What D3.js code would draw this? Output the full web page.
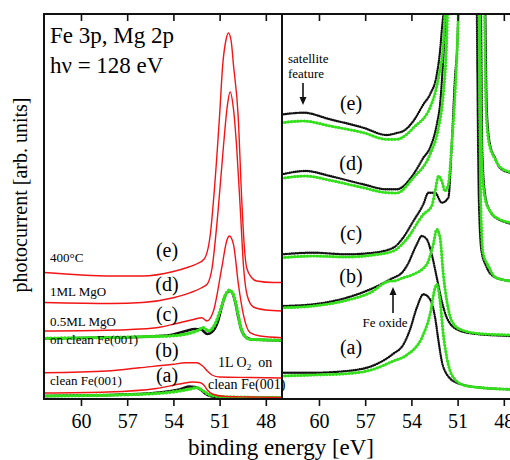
<!DOCTYPE html>
<html>
<head>
<meta charset="utf-8">
<script src="https://cdn.jsdelivr.net/npm/d3@7"></script>
<style>
  body { margin: 0; background: #fff; }
  svg { display: block; }
  svg text { font-family: "Liberation Serif", "Times New Roman", Times, serif; }
</style>
</head>
<body>
<script>
// binding energy [eV] -> photocurrent [arb. units]
// left panel: overview spectra
const leftRedE = [[62.4,126.5],[60,124],[58,123],[56,123],[54,127.5],[53,132],[52.5,135],[52,140],[51.6,165],[51.4,198],[51.0,284],[50.8,334],[50.6,358],[50.43,366],[50.25,358],[50.1,334],[49.8,284],[49.56,198],[49.4,153],[49.24,131],[48.9,121],[48.6,118],[47.5,116.5],[46.95,116.5]]
const leftRedD = [[62.4,96.5],[58,95.5],[56,96.5],[54,101.3],[52.9,106.3],[52.2,111],[51.8,115],[51.5,130],[51.1,188],[50.76,251],[50.5,293],[50.32,307],[50.1,290],[49.89,251],[49.65,188],[49.45,133],[49.2,103],[48.8,92],[48,89],[46.95,88]]
const leftRedC = [[62.4,68],[58.3,68.7],[55.1,71.3],[53.6,76.3],[52.7,79.5],[52.16,81.3],[51.83,78],[51.4,88],[50.86,131.3],[50.54,158],[50.37,163],[50.1,154.7],[49.78,114.7],[49.46,84.7],[49.02,66.3],[48.37,63],[46.95,61.3]]
const leftRedB = [[62.4,26.3],[58.3,28],[56.2,31.3],[54,34.7],[53.2,36.3],[52.5,36.3],[52.1,33],[51.8,28],[51.5,24],[51,22],[49,21.5],[46.95,21]]
const leftRedA = [[62.4,6],[58.3,7],[55.1,10.5],[53.6,15],[52.7,17],[52.3,16.5],[52,13.5],[51.8,9],[51.4,4.5],[50.6,2.5],[49,2],[46.95,1.5]]
const leftGreenC = [[62.4,60.7],[58,61.5],[55.5,62.5],[54.2,63],[52.48,68],[52.06,71.3],[51.73,68],[51.3,74.7],[50.97,88],[50.65,103],[50.37,108.7],[50.11,104.7],[49.89,91.3],[49.67,74.7],[49.46,64.7],[49.02,59.7],[46.95,58.7]]
const leftBlackC = [[62.4,60.5],[58,61.5],[55.5,62.5],[54.2,64],[53.2,68],[52.6,70],[52.2,69.5],[51.8,65],[51.5,67],[51.1,78],[50.8,96],[50.5,107],[50.3,108],[50,98],[49.8,83],[49.6,70],[49.3,62],[48.9,59.5],[46.95,58.5]]
const leftGreenA = [[62.4,3],[56.2,4.7],[53.6,8],[52.9,10],[52.48,11.3],[52.06,8],[51.62,4],[50.54,2],[46.95,1.3]]
const leftBlackA = [[62.4,3],[56.2,5],[53.6,9.5],[53,12.5],[52.6,12],[52.2,9],[51.9,5],[51.5,2.5],[50.5,1.5],[46.95,1]]

// right panel: magnified spectra (black and green data), peaks run off the top
const rightBlackE = [[62.4,284.5],[61.02,286.3],[59.28,279.7],[57.12,271.3],[55.6,264],[54.95,266],[54.52,268],[53.87,278],[53.22,294.7],[52.79,304.7],[52.35,324.7],[52.14,348],[52.03,368],[51.9,393],[51.5,700],[50.4,1290],[49.4,700],[49.2,388],[49.1,288],[48.9,255],[48.57,241],[48.25,231],[47.6,226.3],[46.95,225]]
const rightGreenE = [[62.4,276.3],[61.02,278],[59.28,273],[57.12,266.3],[55.6,259.7],[54.95,259.7],[54.3,264.7],[53.87,271.3],[52.79,291.3],[52.24,321.3],[51.93,354.7],[51.82,388],[51.5,700],[50.4,1290],[49.4,700],[49.25,388],[49.15,288],[48.95,255],[48.6,241],[48.25,232],[47.6,227],[46.95,225.5]]
const rightBlackD = [[62.4,224.7],[60.87,228],[59.28,223],[57.12,214.7],[55.6,209.7],[54.95,209.7],[53.87,224.7],[53.22,241.3],[52.79,251.3],[52.35,274.7],[52.14,294.7],[51.94,338],[51.77,388],[51.4,650],[50.4,1100],[49.7,650],[49.48,388],[49.4,248],[49.2,203],[48.9,188],[48.25,179],[46.95,174]]
const rightGreenD = [[62.4,220.7],[60.87,223],[59.28,218.7],[57.12,211.3],[55.6,206.3],[54.95,206],[53.87,221.3],[52.79,244.7],[52.24,271.3],[51.93,304.7],[51.72,354.7],[51.65,388],[51.3,650],[50.4,1100],[49.7,650],[49.55,388],[49.45,248],[49.25,203],[48.9,188],[48.25,179.5],[46.95,175]]
const rightBlackC = [[62.4,144.7],[60.37,146.3],[58.2,144.7],[56.47,146.3],[55.17,151.3],[54.6,160],[53.87,178],[53.22,195],[52.9,206.3],[52.46,206.3],[52.03,196.3],[51.6,201.3],[51.38,254.7],[51.17,321.3],[51.02,354.7],[50.95,388],[50.6,700],[50.3,900],[49.9,700],[49.75,388],[49.62,198],[49.45,148],[49.15,133],[48.6,122],[47.6,118],[46.95,117]]
const rightGreenC = [[62.4,141.3],[60.37,143],[58.2,142],[56.47,144],[55.17,148],[54.3,160],[53.22,184.7],[52.68,193],[52.46,208],[52.24,223],[52.03,218],[51.82,208],[51.6,214.7],[51.38,254.7],[51.17,304.7],[50.95,388],[50.6,700],[50.3,900],[49.9,700],[49.62,388],[49.5,198],[49.35,146],[49,133],[48.57,122],[47.6,118],[46.95,117]]
const rightBlackB = [[62.4,93],[60.37,94.7],[58.2,101.3],[56.67,109.7],[55.37,119.7],[54.52,128],[54.3,133],[53.65,154.7],[53.33,163],[53,159.7],[52.68,144.7],[52.35,121.3],[52.03,98],[51.7,81.3],[51.05,69.7],[49.97,65.3],[47.6,63],[46.95,62.5]]
const rightGreenB = [[62.4,91.3],[60.37,93],[58.2,98.7],[56.67,106.3],[55.37,118],[55.17,118],[54.52,121.3],[53.87,124.7],[53,134.7],[52.58,154.7],[52.35,169.7],[52.14,161.3],[51.93,124.7],[51.7,98],[51.38,78],[50.84,69.7],[49.54,65.3],[47.6,64],[46.95,63.5]]
const rightBlackA = [[62.4,26.3],[60.37,26.3],[58.2,28],[56.4,34],[55.2,45],[54.5,55],[54.1,69],[53.65,91.3],[53.22,104.7],[52.79,99.7],[52.46,81.3],[52.24,58],[52.03,38],[51.7,24.7],[51.05,16.3],[49.5,11.3],[47.6,9.7],[46.95,9.5]]
const rightGreenA = [[62.4,23],[60.37,24],[58.2,25.3],[56.47,29.7],[55.17,38],[54.3,44],[53.22,64.7],[52.79,84.7],[52.46,111.3],[52.35,114.7],[52.14,98],[51.93,64.7],[51.7,41.3],[51.27,21.3],[50.4,13],[47.6,9.7],[46.95,9.5]]

const minorTicks = d3.range(47, 63)
const majorTicks = [60, 57, 54, 51, 48]

const W = 510, H = 460
const yTop = 14, yBot = 399
const serif = '"Liberation Serif", "Times New Roman", Times, serif'
const RED = "#f21515", GREEN = "#34e01c", BLACK = "#111"

const svg = d3.select("body").append("svg")
  .attr("width", W).attr("height", H)

const y = d3.scaleLinear().domain([0, 385]).range([yBot, yTop])
const xL = d3.scaleLinear().domain([62.4, 46.95]).range([44, 282])
const xR = d3.scaleLinear().domain([62.4, 46.95]).range([282, 520])

const defs = svg.append("defs")
const panel = (x, id) => {
  const [x0, x1] = x.range()
  defs.append("clipPath").attr("id", id)
    .append("rect").attr("x", x0).attr("y", yTop).attr("width", x1 - x0).attr("height", yBot - yTop)
  const g = svg.append("g").attr("clip-path", `url(#${id})`)
  const line = d3.line().x(d => x(d[0])).y(d => y(d[1])).curve(d3.curveMonotoneX)
  return { g, line }
}

const dotted = (p, data, color, w, gap) => p.g.append("path").attr("d", p.line(data))
  .attr("fill", "none").attr("stroke", color).attr("stroke-width", w)
  .attr("stroke-linecap", "round").attr("stroke-dasharray", `0 ${gap}`)
const solid = (p, data, color, w) => p.g.append("path").attr("d", p.line(data))
  .attr("fill", "none").attr("stroke", color).attr("stroke-width", w)

// left panel
const L = panel(xL, "clipL")
for (const d of [leftBlackC, leftBlackA]) solid(L, d, BLACK, 2.6)
for (const d of [leftGreenC, leftGreenA]) { solid(L, d, GREEN, 2.2); dotted(L, d, GREEN, 3.6, 3.5) }
for (const d of [leftRedE, leftRedD, leftRedC, leftRedB, leftRedA]) solid(L, d, RED, 1.4)

// right panel
const R = panel(xR, "clipR")
for (const d of [rightBlackE, rightBlackD, rightBlackC, rightBlackB, rightBlackA]) dotted(R, d, BLACK, 2.4, 2)
for (const d of [rightGreenE, rightGreenD, rightGreenC, rightGreenB, rightGreenA]) {
  solid(R, d, GREEN, 1.8); dotted(R, d, GREEN, 3.2, 3.2)
}

// frames and axes
for (const x of [xL, xR]) {
  const gb = svg.append("g").attr("transform", `translate(0,${yBot})`)
  gb.call(d3.axisBottom(x).tickValues(minorTicks).tickSize(5).tickFormat(""))
  gb.call(d3.axisBottom(x).tickValues(majorTicks).tickSize(7).tickPadding(8).tickFormat(d3.format("d")))
  const gt = svg.append("g").attr("transform", `translate(0,${yTop})`)
  gt.call(d3.axisTop(x).tickValues(minorTicks).tickSizeInner(-5).tickSizeOuter(0).tickFormat(""))
  gt.call(d3.axisTop(x).tickValues(majorTicks).tickSizeInner(-7).tickSizeOuter(0).tickFormat(""))
  for (const g of [gb, gt]) {
    g.attr("font-family", serif)
    g.selectAll(".domain").remove()
    g.selectAll("line").attr("stroke", BLACK).attr("stroke-width", 1.6)
    g.selectAll("text").attr("font-family", serif).attr("font-size", 20).attr("fill", "#000")
  }
  const [x0, x1] = x.range()
  svg.append("rect").attr("x", x0).attr("y", yTop).attr("width", x1 - x0).attr("height", yBot - yTop)
    .attr("fill", "none").attr("stroke", BLACK).attr("stroke-width", 2)
}

// axis titles
svg.append("text").attr("transform", "translate(27,195) rotate(-90)")
  .attr("text-anchor", "middle").attr("font-size", 20).text("photocurrent [arb. units]")
svg.append("text").attr("x", 281).attr("y", 455)
  .attr("text-anchor", "middle").attr("font-size", 23).text("binding energy [eV]")

// annotations
const txt = (x, yy, s, size, anchor) => svg.append("text").attr("x", x).attr("y", yy)
  .attr("font-size", size).attr("text-anchor", anchor || "start").text(s)
txt(50, 43, "Fe 3p, Mg 2p", 23)
txt(50, 73, "h\u03bd = 128 eV", 23)
txt(50, 262, "400\u00b0C", 13)
txt(50, 296, "1ML MgO", 13)
txt(50, 326, "0.5ML MgO", 13)
txt(50, 344, "on clean Fe(001)", 13)
txt(50, 385, "clean Fe(001)", 13)
const leftTags = [["(e)", 257], ["(d)", 291], ["(c)", 321], ["(b)", 357], ["(a)", 382]]
for (const [s, yy] of leftTags) txt(167, yy, s, 20, "middle")
const o2 = txt(218, 367, "1L O", 14)
o2.append("tspan").attr("font-size", 9).attr("dy", 3).text("2")
o2.append("tspan").attr("dy", -3).text("\u2002on")
txt(208, 389, "clean Fe(001)", 14)

const rightTags = [["(e)", 110], ["(d)", 170], ["(c)", 240], ["(b)", 283], ["(a)", 354]]
for (const [s, yy] of rightTags) txt(351, yy, s, 20, "middle")
txt(288, 63, "satellite", 13)
txt(288, 78, "feature", 13)
txt(385, 327, "Fe oxide", 13, "middle")

const arrow = (x, y0, y1) => {
  const dir = Math.sign(y1 - y0)
  svg.append("line").attr("x1", x).attr("x2", x).attr("y1", y0).attr("y2", y1 - dir * 6)
    .attr("stroke", BLACK).attr("stroke-width", 1.6)
  svg.append("path").attr("d", `M${x - 3.5},${y1 - dir * 8}L${x + 3.5},${y1 - dir * 8}L${x},${y1}Z`)
    .attr("fill", BLACK)
}
arrow(303, 83, 105)
arrow(393, 313, 287)
</script>
</body>
</html>
